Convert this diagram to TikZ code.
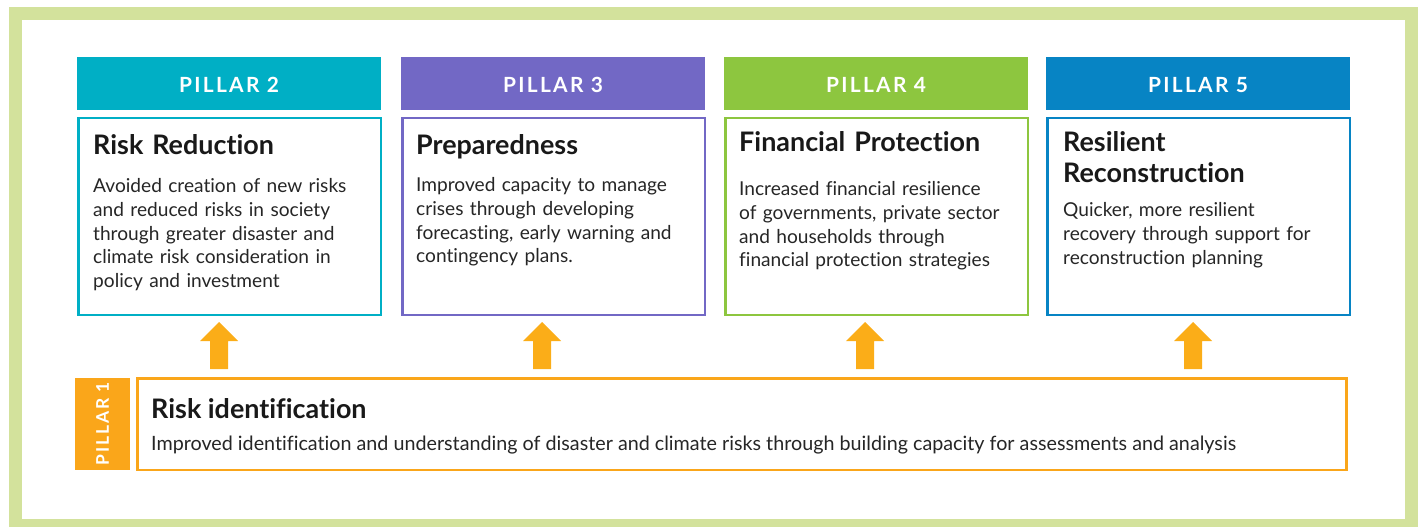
\documentclass[tikz,border=0pt]{standalone}
\usepackage{fontspec}
\setmainfont{Lato}[Ligatures=NoCommon]
\newfontfamily\hdrfont[LetterSpace=11,Ligatures=NoCommon]{Lato}
\begin{document}
\begin{tikzpicture}[x=1bp,y=-1bp,
  hdr/.style={fill=#1, draw=none, minimum width=304bp, minimum height=53bp, inner sep=0pt, outer sep=0pt, anchor=north west,
    text height=20bp, text depth=2bp,
    text=white, font=\hdrfont\bfseries\fontsize{21}{24}\selectfont},
  pbox/.style={draw=#1, line width=2.5bp, fill=white, minimum width=302.5bp, minimum height=196.5bp, inner sep=0pt, outer sep=0pt, anchor=north west},
  ttl/.style={anchor=base west, inner sep=0pt, text width=290bp, align=left, text=black!90,
    font=\fontsize{27}{31}\selectfont\bfseries},
  body/.style={anchor=base west, inner sep=0pt, text width=295bp, align=left, text=black!85,
    font=\fontsize{19.2}{23.7}\selectfont},
  uparrow/.style={fill=arrowc, draw=none}
]
\definecolor{framec}{HTML}{D3E29C}
\definecolor{tealc}{HTML}{00AFC5}
\definecolor{purpc}{HTML}{7268C5}
\definecolor{greenc}{HTML}{8DC63F}
\definecolor{bluec}{HTML}{0784C4}
\definecolor{orangec}{HTML}{FAA61A}
\definecolor{arrowc}{HTML}{FBAD18}
\useasboundingbox (0,0) rectangle (1422,527);
\draw[framec, line width=13bp] (15.5,13.5) rectangle (1411.5,525.5);

% pillar headers
\node[hdr=tealc]  (h2) at (77,57)   {PILLAR 2};
\node[hdr=purpc]  (h3) at (401,57)  {PILLAR 3};
\node[hdr=greenc] (h4) at (724,57)  {PILLAR 4};
\node[hdr=bluec]  (h5) at (1046,57) {PILLAR 5};

% pillar boxes
\node[pbox=tealc]  (b2) at (78.25,118.25)  {};
\node[pbox=purpc]  (b3) at (402.25,118.25) {};
\node[pbox=greenc] (b4) at (725.25,118.25) {};
\node[pbox=bluec]  (b5) at (1047.25,118.25) {};

% titles and bodies
\node[ttl] (t2) at (93,155) {Risk Reduction};
\node[body] (d2) at (93,193) {Avoided creation of new risks\\and reduced risks in society\\through greater disaster and\\climate risk consideration in\\policy and investment};
\node[ttl] (t3) at (416,155) {Preparedness};
\node[body] (d3) at (416,192) {Improved capacity to manage\\crises through developing\\forecasting, early warning and\\contingency plans.};
\node[ttl] (t4) at (739,152) {Financial Protection};
\node[body] (d4) at (739,196) {Increased financial resilience\\of governments, private sector\\and households through\\financial protection strategies};
\node[ttl] (t5) at (1063,152) {Resilient\\Reconstruction};
\node[body] (d5) at (1063,217) {Quicker, more resilient\\recovery through support for\\reconstruction planning};

% pillar 1
\node[fill=orangec, minimum width=55bp, minimum height=92bp, inner sep=0pt, outer sep=0pt, anchor=north west] (h1) at (75,378) {};
\node[rotate=90, text=white, font=\hdrfont\bfseries\fontsize{17.5}{20}\selectfont, inner sep=0pt] (l1) at (h1.center) {PILLAR 1};
\node[draw=orangec, line width=2.5bp, fill=white, minimum width=1209bp, minimum height=91.5bp, inner sep=0pt, outer sep=0pt, anchor=north west] (b1) at (137.25,378.25) {};
\node[anchor=base west, inner sep=0pt, text=black!90, font=\fontsize{27}{31}\selectfont\bfseries] (t1) at (151,418) {Risk identification};
\node[anchor=base west, inner sep=0pt, text=black!85, font=\fontsize{19.8}{23.7}\selectfont] (d1) at (151,450) {Improved identification and understanding of disaster and climate risks through building capacity for assessments and analysis};

% arrows
\foreach \cx in {219,542,865,1193}{
  \fill[uparrow] (\cx,322) -- (\cx+19,341) -- (\cx+9,341) -- (\cx+9,369) -- (\cx-9,369) -- (\cx-9,341) -- (\cx-19,341) -- cycle;
}
\end{tikzpicture}
\end{document}
